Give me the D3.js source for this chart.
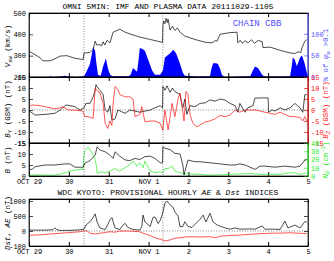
<!DOCTYPE html>
<html>
<head>
<meta charset="utf-8">
<script src="https://cdn.jsdelivr.net/npm/d3@7"></script>
<style>
body { margin: 0; background: #fff; }
svg text { font-family: "Liberation Mono", monospace; }
</style>
</head>
<body>
<div id="chart"></div>
<script>
const width = 334
const height = 261

// time is in days since 2011-10-29 00:00 UT
const dayLabels = ["OCT 29", "30", "31", "NOV 1", "2", "3", "4", "5"]
const shockTimes = [1.38, 3.36]

const vsw = [[0,320],[0.15,305],[0.28,290],[0.35,276],[0.53,276],[0.65,285],[0.78,298],[0.95,300],[1.03,295],[1.15,288],[1.28,284],[1.36,282],[1.38,312],[1.53,315],[1.61,330],[1.66,368],[1.70,350],[1.78,352],[1.82,345],[1.86,365],[1.90,350],[1.96,372],[2.03,360],[2.11,410],[2.28,424],[2.41,410],[2.53,402],[2.78,387],[3.04,376],[3.29,365],[3.35,362],[3.36,440],[3.38,462],[3.41,450],[3.44,475],[3.47,455],[3.49,471],[3.52,440],[3.54,420],[3.60,438],[3.66,418],[3.72,430],[3.79,410],[3.91,392],[4.16,376],[4.42,363],[4.59,360],[4.67,370],[4.72,368],[4.79,400],[5.04,408],[5.22,410],[5.24,360],[5.30,372],[5.35,358],[5.42,370],[5.50,360],[5.58,375],[5.66,358],[5.75,372],[5.85,365],[5.87,338],[6.05,340],[6.30,325],[6.55,313],[6.67,310],[6.75,318],[6.82,315],[6.85,338],[6.92,368],[6.97,375]]

const chainPct = [[0,0],[0.5,0],[0.53,2],[0.6,0],[0.8,1],[0.9,3],[1.0,1],[1.2,0],[1.38,2],[1.43,10],[1.53,30],[1.61,70],[1.66,60],[1.68,40],[1.73,5],[1.80,3],[1.86,25],[1.93,43],[1.98,20],[2.03,5],[2.1,2],[2.5,2],[2.55,5],[2.61,21],[2.68,15],[2.71,12],[2.75,40],[2.78,67],[2.85,65],[2.91,60],[2.99,40],[3.09,15],[3.16,5],[3.29,5],[3.36,15],[3.41,45],[3.54,55],[3.62,63],[3.69,55],[3.79,30],[3.86,10],[3.91,3],[4.2,1],[4.54,2],[4.58,20],[4.62,32],[4.70,32],[4.74,30],[4.79,20],[4.84,5],[4.9,0],[5.3,1],[5.55,2],[5.59,10],[5.67,24],[5.75,20],[5.85,5],[5.9,1],[6.3,1],[6.55,2],[6.60,30],[6.62,45],[6.67,40],[6.72,25],[6.80,45],[6.85,50],[6.92,30],[6.97,10],[7.0,0]]

const by = [[0,-0.3],[0.15,-2.3],[0.40,-2],[0.65,-1.5],[0.78,0],[0.93,2.3],[1.15,1.5],[1.28,0],[1.38,1],[1.43,3],[1.53,3],[1.61,6],[1.66,9],[1.68,11.5],[1.73,10],[1.78,9],[1.86,7],[1.91,0],[1.98,-1],[2.03,2],[2.08,-4.6],[2.16,-4],[2.23,0],[2.41,-1.5],[2.53,0],[2.78,-1],[3.04,0],[3.16,1],[3.29,2],[3.35,1],[3.36,10.7],[3.41,9],[3.46,11],[3.54,8],[3.6,10],[3.66,8.4],[3.79,7],[3.84,2],[3.86,1],[3.91,5],[3.96,-2],[4.04,2],[4.16,1.5],[4.29,3],[4.42,3.2],[4.54,4.6],[4.67,4],[4.79,5],[4.92,4.5],[5.04,3],[5.17,2],[5.24,-1],[5.29,3],[5.42,-1],[5.49,1],[5.62,2],[5.67,5.4],[5.85,5.5],[6.0,5.5],[6.01,-1],[6.10,0],[6.17,-0.5],[6.30,1],[6.42,0],[6.55,1],[6.67,3],[6.80,1],[6.87,-1],[6.92,7],[6.97,7]]

const bz = [[0,1.5],[0.075,2.3],[0.28,2],[0.40,1.5],[0.53,1],[0.65,0.5],[0.78,1],[0.85,1.5],[0.98,0],[1.15,0],[1.35,-0.5],[1.40,-3],[1.48,-3],[1.61,-3.8],[1.66,10],[1.73,8.4],[1.78,8],[1.86,3],[1.91,-6],[1.98,-8.4],[2.03,-5],[2.08,-7],[2.11,3],[2.16,10.7],[2.23,9.2],[2.28,7],[2.41,6],[2.53,6],[2.61,5],[2.66,-3],[2.78,-2],[2.83,1.5],[2.91,-5.4],[3.04,-5],[3.16,-5],[3.29,-6],[3.36,-9.2],[3.38,-5],[3.41,0],[3.49,-9],[3.59,3],[3.66,-3],[3.74,5],[3.79,7.7],[3.84,2],[3.89,-5],[3.94,8.4],[3.99,7],[4.04,-2],[4.11,-6],[4.21,-7.7],[4.42,-5.4],[4.54,-5],[4.67,-4],[4.79,-2.5],[4.92,-3],[5.04,-2.3],[5.17,0],[5.29,-1],[5.42,0],[5.67,0],[5.80,-0.5],[5.92,-1],[6.05,-1.5],[6.17,-2],[6.30,-1],[6.42,-2],[6.55,-3],[6.67,-3],[6.80,-3.5],[6.87,-5],[6.92,-3],[6.97,-5]]

const bmag = [[0,3],[0.075,3],[0.15,4.2],[0.40,5],[0.65,5],[0.90,5.5],[1.03,5.5],[1.15,4],[1.36,4],[1.40,5.8],[1.53,7],[1.66,9.5],[1.71,13.3],[1.78,11.8],[1.91,11],[2.03,9.5],[2.11,8],[2.16,11],[2.28,9],[2.41,7.3],[2.53,7],[2.66,8],[2.78,7.5],[2.91,8.8],[3.04,9],[3.16,8],[3.29,6],[3.35,6],[3.36,13.3],[3.41,12.6],[3.54,12],[3.66,10.3],[3.79,10],[3.86,5],[3.89,0.5],[3.91,2],[3.99,7.3],[4.04,7],[4.16,6.5],[4.29,6.5],[4.54,6],[4.79,5.5],[5.04,5],[5.17,5],[5.29,5.5],[5.42,5],[5.67,3],[5.80,4.5],[5.92,4.5],[6.17,4],[6.42,4.5],[6.67,4],[6.80,4.5],[6.87,6],[6.92,7.3],[6.97,7.5]]

const np = [[0,1],[0.15,1.2],[0.65,1],[0.78,2],[0.90,4],[1.03,6],[1.15,7],[1.28,8],[1.36,8],[1.38,25],[1.40,30],[1.48,35],[1.58,28],[1.66,20],[1.70,10],[1.71,3],[1.78,5],[1.91,4],[2.03,6],[2.16,9],[2.28,6],[2.41,10],[2.53,14],[2.61,18],[2.71,12],[2.78,16],[2.86,10],[2.91,18],[3.04,6],[3.16,4],[3.29,5],[3.36,4],[3.41,9],[3.49,9],[3.59,12],[3.66,6],[3.79,4],[3.91,3],[4.04,2.4],[4.29,2],[4.54,1],[4.79,1.5],[5.04,2],[5.29,2.5],[5.54,3],[5.80,2],[6.05,2],[6.30,2],[6.55,4],[6.67,4],[6.80,2],[6.92,3],[6.97,4]]

const ae = [[0,30],[0.4,30],[0.60,40],[0.65,110],[0.7,40],[0.78,20],[1.03,20],[1.28,40],[1.38,60],[1.43,200],[1.53,310],[1.61,450],[1.66,570],[1.71,300],[1.78,100],[1.91,50],[1.98,220],[2.03,370],[2.08,450],[2.16,100],[2.28,50],[2.36,200],[2.41,255],[2.48,120],[2.61,50],[2.78,30],[2.83,150],[2.86,530],[2.91,300],[3.04,150],[3.11,450],[3.16,470],[3.24,250],[3.29,350],[3.36,620],[3.41,930],[3.46,1000],[3.54,870],[3.61,800],[3.66,640],[3.74,500],[3.79,140],[3.86,150],[3.91,310],[3.99,150],[4.09,120],[4.29,390],[4.37,530],[4.44,300],[4.54,590],[4.62,300],[4.72,200],[4.84,140],[4.97,80],[5.04,60],[5.17,100],[5.29,60],[5.54,70],[5.67,60],[5.85,170],[5.92,60],[6.17,60],[6.30,50],[6.42,330],[6.50,100],[6.67,200],[6.80,100],[6.92,310],[6.97,300]]

const dst = [[0,-29],[0.28,-25],[0.53,-20],[0.78,-15],[1.03,-10],[1.28,-5],[1.38,0],[1.46,5],[1.53,-15],[1.66,-20],[1.78,-15],[1.91,-10],[2.03,-5],[2.16,-8],[2.28,0],[2.53,0],[2.66,-3],[2.78,-5],[2.86,-15],[3.04,-30],[3.16,-45],[3.29,-55],[3.36,-60],[3.41,-66],[3.54,-60],[3.66,-48],[3.79,-45],[3.91,-40],[4.04,-38],[4.29,-40],[4.54,-38],[4.67,-45],[4.79,-35],[5.04,-30],[5.29,-27],[5.54,-22],[5.80,-18],[6.05,-15],[6.30,-14],[6.55,-12],[6.80,-15],[6.97,-18]]

const blue = "#0000ff"
const slate = "#5550ff"
const red = "#ff1010"
const green = "#22ee22"

const svg = d3.select("div#chart").append("svg").attr("width", width).attr("height", height)
svg.append("rect").attr("width", width).attr("height", height).attr("fill", "#fff")

const x = d3.scaleLinear().domain([0, 7]).range([29, 308])
const dayTicks = d3.range(0, 8)
const quarterTicks = d3.range(0, 7.01, 0.25)

// y scales, one per panel side
const yV = d3.scaleLinear().domain([200, 500]).range([77, 13])
const yPct = d3.scaleLinear().domain([0, 148]).range([77, 13])
const yB = d3.scaleLinear().domain([-15, 15]).range([143, 77])
const yMag = d3.scaleLinear().domain([0, 15]).range([176, 143])
const yNp = d3.scaleLinear().domain([0, 40]).range([176, 143])
const yIdx = d3.scaleLinear().domain([-100, 0, 1000]).range([246, 231, 201])

const panels = [
    {y: yV, top: 13, bottom: 77, xlabels: false},
    {y: yB, top: 77, bottom: 143, xlabels: false},
    {y: yMag, top: 143, bottom: 176, xlabels: true},
    {y: yIdx, top: 199, bottom: 246, xlabels: true}
]

function fmt(d) { return String(d) }

// bottom and top day axes for each panel
panels.forEach(p => {
    const bottomGroup = svg.append("g").attr("transform", `translate(0, ${p.bottom})`)
    bottomGroup.call(d3.axisBottom(x).tickValues(quarterTicks).tickSize(-2).tickSizeOuter(0).tickFormat(""))
    bottomGroup.call(d3.axisBottom(x).tickValues(dayTicks).tickSize(-4).tickSizeOuter(0)
        .tickPadding(3).tickFormat(d => p.xlabels ? dayLabels[d] : ""))
    bottomGroup.selectAll("text").attr("font-size", 7)
    const topGroup = svg.append("g").attr("transform", `translate(0, ${p.top})`)
    topGroup.call(d3.axisTop(x).tickValues(quarterTicks).tickSize(-2).tickSizeOuter(0).tickFormat(""))
    topGroup.call(d3.axisTop(x).tickValues(dayTicks).tickSize(-4).tickSizeOuter(0).tickFormat(""))
})

function sideAxis(side, scale, major, minor, color, labels) {
    const xpos = side === "left" ? 29 : 308
    const make = side === "left" ? d3.axisLeft : d3.axisRight
    const g = svg.append("g").attr("transform", `translate(${xpos}, 0)`)
    g.call(make(scale).tickValues(minor).tickSize(-2).tickSizeOuter(0).tickFormat(""))
    g.call(make(scale).tickValues(major).tickSize(-4).tickSizeOuter(0).tickPadding(3)
        .tickFormat(labels ? fmt : ""))
    g.selectAll("line, path").attr("stroke", color).attr("stroke-width", 0.7)
    g.selectAll("text").attr("fill", color).attr("font-size", 7)
    return g
}

sideAxis("left", yV, [200, 300, 400, 500], d3.range(200, 501, 20), "#000", true)
sideAxis("right", yPct, [0, 50, 100], d3.range(0, 141, 10), slate, true)
sideAxis("left", yB, d3.range(-15, 16, 5), d3.range(-15, 16, 1), "#000", true)
sideAxis("right", yB, d3.range(-15, 16, 5), d3.range(-15, 16, 1), red, true)
sideAxis("left", yMag, [0, 5, 10, 15], d3.range(0, 16, 1), "#000", true)
sideAxis("right", yNp, [0, 10, 20, 30, 40], d3.range(0, 41, 2), green, true)
sideAxis("left", yIdx, [-100, 0, 500, 1000], d3.range(-100, 1001, 100).concat([-50]), "#000", true)
sideAxis("right", yIdx, [-100, 0, 500, 1000], d3.range(-100, 1001, 100).concat([-50]), "#000", false)

// panel content
const plot = svg.append("g")

plot.append("path").datum(chainPct)
    .attr("fill", blue)
    .attr("d", d3.area().x(d => x(d[0])).y0(yPct(0)).y1(d => yPct(d[1])))

plot.append("path").datum(vsw)
    .attr("fill", "none").attr("stroke", "#000").attr("stroke-width", 0.7)
    .attr("d", d3.line().x(d => x(d[0])).y(d => yV(d[1])))

// zero lines
plot.append("line").attr("x1", x(0)).attr("x2", x(7)).attr("y1", yB(0)).attr("y2", yB(0))
    .attr("stroke", "#000").attr("stroke-width", 0.6).attr("stroke-dasharray", "0.8,1.8")
plot.append("line").attr("x1", x(0)).attr("x2", x(7)).attr("y1", yIdx(0)).attr("y2", yIdx(0))
    .attr("stroke", "#000").attr("stroke-width", 0.6).attr("stroke-dasharray", "0.8,1.8")

plot.append("path").datum(by)
    .attr("fill", "none").attr("stroke", "#000").attr("stroke-width", 0.7)
    .attr("d", d3.line().x(d => x(d[0])).y(d => yB(d[1])))
plot.append("path").datum(bz)
    .attr("fill", "none").attr("stroke", red).attr("stroke-width", 0.7)
    .attr("d", d3.line().x(d => x(d[0])).y(d => yB(d[1])))

plot.append("path").datum(np)
    .attr("fill", "none").attr("stroke", green).attr("stroke-width", 0.7)
    .attr("d", d3.line().x(d => x(d[0])).y(d => yNp(d[1])))
plot.append("path").datum(bmag)
    .attr("fill", "none").attr("stroke", "#000").attr("stroke-width", 0.7)
    .attr("d", d3.line().x(d => x(d[0])).y(d => yMag(d[1])))

plot.append("path").datum(ae)
    .attr("fill", "none").attr("stroke", "#000").attr("stroke-width", 0.7)
    .attr("d", d3.line().x(d => x(d[0])).y(d => yIdx(d[1])))
plot.append("path").datum(dst)
    .attr("fill", "none").attr("stroke", red).attr("stroke-width", 0.7)
    .attr("d", d3.line().x(d => x(d[0])).y(d => yIdx(d[1])))

// shock times
panels.forEach(p => {
    shockTimes.forEach(t => {
        plot.append("line").attr("x1", x(t)).attr("x2", x(t)).attr("y1", p.top).attr("y2", p.bottom)
            .attr("stroke", "#000").attr("stroke-width", 0.6).attr("stroke-dasharray", "0.8,1.8")
    })
})

// frames
panels.forEach(p => {
    svg.append("rect").attr("x", 29).attr("y", p.top).attr("width", 279).attr("height", p.bottom - p.top)
        .attr("fill", "none").attr("stroke", "#000").attr("stroke-width", 0.7)
})
svg.append("line").attr("x1", 308).attr("x2", 308).attr("y1", 13).attr("y2", 77).attr("stroke", slate).attr("stroke-width", 0.8)
svg.append("line").attr("x1", 308).attr("x2", 308).attr("y1", 77).attr("y2", 143).attr("stroke", red).attr("stroke-width", 0.8)
svg.append("line").attr("x1", 308).attr("x2", 308).attr("y1", 143).attr("y2", 176).attr("stroke", green).attr("stroke-width", 0.8)

// titles
svg.append("text").attr("x", 168).attr("y", 9).attr("text-anchor", "middle").attr("font-size", 8)
    .text("OMNI 5MIN: IMF AND PLASMA DATA  20111029-1105")
const t2 = svg.append("text").attr("x", 168).attr("y", 195).attr("text-anchor", "middle").attr("font-size", 8)
t2.append("tspan").text("WDC KYOTO: PROVISIONAL HOURLY ")
t2.append("tspan").attr("font-style", "italic").text("AE")
t2.append("tspan").text(" & ")
t2.append("tspan").attr("font-style", "italic").text("Dst")
t2.append("tspan").text(" INDICES")

svg.append("text").attr("x", 257).attr("y", 26).attr("text-anchor", "middle").attr("font-size", 9)
    .attr("fill", slate).text("CHAIN CBB")

// rotated axis titles
function vlabel(xp, yp, color, parts) {
    const t = svg.append("text").attr("transform", `translate(${xp}, ${yp}) rotate(-90)`)
        .attr("text-anchor", "middle").attr("font-size", 7.5).attr("fill", color)
    parts.forEach(p => {
        const s = t.append("tspan").text(p[0])
        if (p[1] === "i") s.attr("font-style", "italic")
        if (p[1] === "sub") s.attr("font-style", "italic").attr("font-size", 5.5).attr("dy", 1.5)
        if (p[1] === "sup") s.attr("font-size", 5.5).attr("dy", -3)
        if (p[2]) s.attr("dy", p[2])
    })
}
vlabel(10, 46, "#000", [["V", "i"], ["sw", "sub"], [" (km/s)", "", -1.5]])
vlabel(10, 109, "#000", [["B", "i"], ["Y", "sub"], [" (GSM) (nT)", "", -1.5]])
vlabel(10, 160, "#000", [["B", "i"], [" (nT)"]])
vlabel(10, 223, "#000", [["Dst", "i"], [", "], ["AE", "i"], [" (nT)"]])
vlabel(328, 55, slate, [["% of ", ""], ["\u03c6", "i"], ["e", "sub"], [" >0.1", "", -1.5]])
vlabel(328, 110, red, [["B", "i"], ["Z", "sub"], [" (GSM) (nT)", "", -1.5]])
vlabel(328, 160, green, [["N", "i"], ["P", "sub"], [" (cm", "", -1.5], ["-3", "sup"], [")", "", 3]])
</script>
</body>
</html>
